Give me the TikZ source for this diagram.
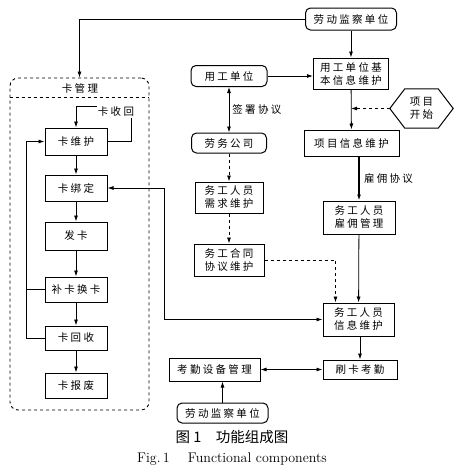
\documentclass[tikz,border=0pt]{standalone}
\usepackage{fontspec}
\newfontfamily\cjk[LetterSpace=22]{Noto Sans CJK SC}
\newfontfamily\cjkcap{Noto Sans CJK SC}
\usetikzlibrary{arrows.meta}

\tikzset{
  box/.style={draw, line width=1pt, inner sep=0pt, align=center,
    font=\cjk\fontsize{10.5}{13}\selectfont},
  rbox/.style={box, rounded corners=5pt},
  link/.style={line width=0.8pt, -{Latex[length=6pt,width=4pt]}},
  twolink/.style={line width=0.8pt, {Latex[length=6pt,width=4pt]}-{Latex[length=6pt,width=4pt]}},
  lbl/.style={inner sep=1pt, font=\cjk\fontsize{10.5}{13}\selectfont},
}

\begin{document}
\begin{tikzpicture}[x=1pt,y=-1pt]
  \useasboundingbox (0,0) rectangle (471,471);

  % card management group
  \node (cards) at (79.5,244) [draw, dashed, line width=0.9pt, rounded corners=8pt,
    minimum width=139pt, minimum height=332pt] {};
  \draw [dashed, line width=0.9pt]
    ([yshift=-20pt]cards.north west) -- ([yshift=-20pt]cards.north east);
  \node (cardtitle) at (80,88) [lbl] {卡管理};

  \node (maint) at (76,141.5) [box, minimum width=62pt, minimum height=27pt] {卡维护};
  \node (bind) at (76,188) [box, minimum width=62pt, minimum height=26pt] {卡绑定};
  \node (issue) at (76,236) [box, minimum width=62pt, minimum height=28pt] {发卡};
  \node (replace) at (76,289.5) [box, minimum width=62pt, minimum height=25pt] {补卡换卡};
  \node (recycle) at (76,338) [box, minimum width=62pt, minimum height=24pt] {卡回收};
  \node (scrap) at (76,385.5) [box, minimum width=62pt, minimum height=25pt] {卡报废};
  \node (recall) at (116,112) [lbl] {卡收回};

  % right part
  \node (insp) at (351,19) [rbox, minimum width=91pt, minimum height=22pt] {劳动监察单位};
  \node (unitinfo) at (351,73.5) [box, minimum width=75pt, minimum height=31pt] {用工单位基\\本信息维护};
  \node (employer) at (229,76) [rbox, minimum width=76pt, minimum height=21pt] {用工单位};
  \node (agency) at (229,143) [rbox, minimum width=75pt, minimum height=20pt] {劳务公司};
  \node (start) at (421.5,108.5) [lbl, minimum width=63pt, minimum height=39pt, align=center] {项目\\开始};
  \draw [line width=1pt] (start.west) -- ([xshift=15pt]start.north west)
    -- ([xshift=-15pt]start.north east) -- (start.east)
    -- ([xshift=-15pt]start.south east) -- ([xshift=15pt]start.south west) -- cycle;
  \node (proj) at (351.5,143) [box, minimum width=95pt, minimum height=26pt] {项目信息维护};
  \node (hire) at (359,217.5) [box, minimum width=72pt, minimum height=33pt] {务工人员\\雇佣管理};
  \node (winfo) at (358.5,319.5) [box, minimum width=71pt, minimum height=33pt] {务工人员\\信息维护};
  \node (demand) at (229,197.5) [box, minimum width=68pt, minimum height=31pt] {务工人员\\需求维护};
  \node (contract) at (229,260) [box, minimum width=70pt, minimum height=32pt] {务工合同\\协议维护};
  \node (clock) at (360,369.5) [box, minimum width=74pt, minimum height=19pt] {刷卡考勤};
  \node (device) at (214.5,369.5) [box, minimum width=91pt, minimum height=23pt] {考勤设备管理};
  \node (insp2) at (222.5,413) [rbox, minimum width=91pt, minimum height=20pt] {劳动监察单位};

  % card connectors
  \draw [link] (insp.west) -| (cards.north);
  \draw [link] (recall.north west) -| (maint.north);
  \draw (maint.east) [line width=0.8pt] -| ([xshift=-4pt]recall.south east);
  \draw [link] (maint) -- (bind);
  \draw [link] (bind) -- (issue);
  \draw [link] (issue) -- (replace);
  \draw [link] (replace) -- (recycle);
  \draw [link] (recycle) -- (scrap);
  \draw [link] (recycle.west) -- ++(-18,0) |- (maint.west);
  \draw [line width=0.8pt] (replace.west) -- ++(-18,0);
  \draw [twolink] (winfo.west) -- ++(-158,0) |- (bind.east);

  % unit connectors
  \draw [link] (insp) -- (unitinfo);
  \draw [link] (employer.east) -- (employer.east -| unitinfo.west);
  \draw [twolink] (employer) -- (agency)
    node [midway, right=2pt, lbl] {签署协议};
  \draw [link, dashed] (agency) -- (demand);
  \draw [link, dashed] (demand) -- (contract);
  \draw [link, dashed] (contract.east) -| ([xshift=13pt]winfo.north west);
  \draw [link] (unitinfo) -- (proj);
  \draw [link, dashed] (start.west) -- (start.west -| unitinfo.south);
  \draw [link, line width=2pt] (proj.south -| hire.north) -- (hire.north)
    node [midway, right=3pt, lbl] {雇佣协议};
  \draw [link] (hire) -- (winfo);
  \draw [link] (winfo.south -| clock.north) -- (clock.north);
  \draw [twolink] (device) -- (clock);
  \draw [link] (insp2.north) -- (insp2.north |- device.south);

  % caption
  \node (capcn) at (232,437) [font=\cjkcap\fontsize{14.5}{16}\selectfont] {图 1\hspace{1em}功能组成图};
  \node (capen) at (232,459) [font=\fontsize{14}{16}\selectfont] {Fig.\,1\hspace{1.3em}Functional components};
\end{tikzpicture}
\end{document}
